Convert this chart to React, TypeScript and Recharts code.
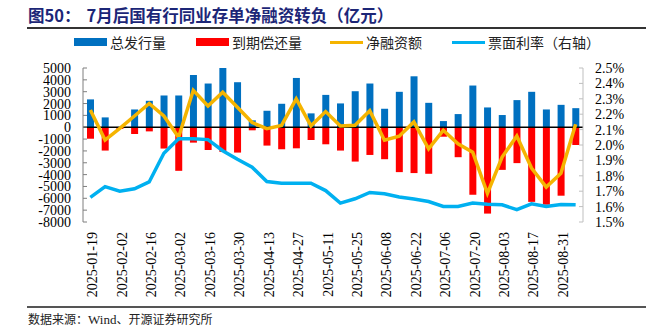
import React from 'react';
import { ComposedChart, Bar, Line, XAxis, YAxis, ReferenceLine } from 'recharts';

const weeks = [
  '2025-01-19', '2025-01-26', '2025-02-02', '2025-02-09', '2025-02-16', '2025-02-23',
  '2025-03-02', '2025-03-09', '2025-03-16', '2025-03-23', '2025-03-30', '2025-04-06',
  '2025-04-13', '2025-04-20', '2025-04-27', '2025-05-04', '2025-05-11', '2025-05-18',
  '2025-05-25', '2025-06-01', '2025-06-08', '2025-06-15', '2025-06-22', '2025-06-29',
  '2025-07-06', '2025-07-13', '2025-07-20', '2025-07-27', '2025-08-03', '2025-08-10',
  '2025-08-17', '2025-08-24', '2025-08-31', '2025-09-07',
];

// 总发行量（亿元）
const issuance = [
  2350, 830, 30, 1500, 2230, 2680, 2680, 4410, 3690, 5000, 3800, 580,
  1390, 1980, 4160, 1170, 2730, 2010, 3040, 3690, 1560, 2990, 4300, 2060,
  520, 1110, 3520, 1670, 1030, 2290, 2990, 1500, 1890, 1610,
];

// 到期偿还量（亿元）
const maturity = [
  -970, -1970, -150, -570, -350, -1800, -3680, -1300, -1920, -2080, -2140, -260,
  -1550, -1860, -1780, -1080, -1440, -1970, -2900, -2340, -2700, -3790, -3870, -3930,
  -800, -2530, -5700, -7290, -3600, -3030, -6300, -6540, -5780, -1500,
];

// 净融资额（亿元）
const netFinancing = [
  1450, -1080, -100, 950, 2000, 950, -850, 3120, 1800, 2960, 1680, 400,
  -120, 150, 2400, 120, 1320, 100, 170, 1400, -1100, -760, 450, -1820,
  -260, -1400, -2100, -5580, -2520, -740, -3450, -5050, -3880, 250,
];

// 票面利率（%，右轴）
const couponRate = [
  1.66, 1.73, 1.70, 1.716, 1.76, 1.946, 2.04, 2.04, 2.035, 1.963, 1.907, 1.856,
  1.763, 1.752, 1.752, 1.752, 1.704, 1.623, 1.651, 1.692, 1.683, 1.662, 1.649, 1.633,
  1.601, 1.601, 1.623, 1.616, 1.612, 1.58, 1.618, 1.601, 1.614, 1.612,
];

const leftTicks = [5000, 4000, 3000, 2000, 1000, 0, -1000, -2000, -3000, -4000, -5000, -6000, -7000, -8000];
const rightTicks = [1.5, 1.6, 1.7, 1.8, 1.9, 2.0, 2.1, 2.2, 2.3, 2.4, 2.5];

const chartData = weeks.map((w, i) => ({
  week: w,
  issuance: issuance[i],
  maturity: maturity[i],
  net: netFinancing[i],
  rate: couponRate[i],
}));

const BLUE = '#0070C0';
const RED = '#FF0000';
const GOLD = '#F5B400';
const CYAN = '#00B0F0';
const serif = '"Liberation Serif", "Times New Roman", serif';
const cjk = '"Noto Sans CJK SC", sans-serif';

const DateTick = (props: any) => {
  const { x, y, payload } = props;
  return (
    <g transform={`translate(${x + 2},${y})`}>
      <text transform="rotate(-90)" textAnchor="end" dy="0.35em" fontSize={14} fontFamily={serif} fill="#000">
        {payload.value}
      </text>
    </g>
  );
};

const legendItems = [
  { label: '总发行量', color: BLUE, kind: 'bar', left: 74 },
  { label: '到期偿还量', color: RED, kind: 'bar', left: 196 },
  { label: '净融资额', color: GOLD, kind: 'line', left: 330 },
  { label: '票面利率（右轴）', color: CYAN, kind: 'line', left: 452 },
];

const App: React.FC = () => {
  return (
    <div style={{ position: 'absolute', left: 0, top: 0, width: 646, height: 330, background: '#fff', overflow: 'hidden' }}>
      <div style={{ position: 'absolute', left: 28, top: 3, fontFamily: cjk, fontWeight: 700, fontSize: 16.5, color: '#1c2677', whiteSpace: 'nowrap' }}>
        图50：<span style={{ marginLeft: 6 }}>7</span>月后国有行同业存单净融资转负（亿元）
      </div>
      <div style={{ position: 'absolute', left: 27, right: 0, top: 27, height: 1.5, background: '#333' }} />
      {legendItems.map(item => (
        <div key={item.label} style={{ position: 'absolute', left: item.left, top: 33, height: 18, display: 'flex', alignItems: 'center', whiteSpace: 'nowrap' }}>
          <span style={{
            display: 'inline-block',
            width: 33,
            height: item.kind === 'bar' ? 8 : 3,
            background: item.color,
            marginRight: 3,
          }} />
          <span style={{ fontFamily: cjk, fontSize: 14, color: '#222', lineHeight: '18px' }}>{item.label}</span>
        </div>
      ))}

      <div style={{ position: 'absolute', left: 0, top: 0 }}>
        <ComposedChart
          width={646}
          height={330}
          data={chartData}
          stackOffset="sign"
          margin={{ top: 68, right: 0, bottom: 0, left: 0 }}
        >
          <XAxis
            dataKey="week"
            xAxisId="x"
            height={108}
            interval={1}
            axisLine={false}
            tickLine={false}
            tickSize={0}
            tickMargin={10}
            tick={DateTick}
          />
          <YAxis
            yAxisId="left"
            orientation="left"
            width={83}
            domain={[-8000, 5000]}
            ticks={leftTicks}
            interval={0}
            axisLine={{ stroke: '#7f7f7f' }}
            tickLine={{ stroke: '#7f7f7f' }}
            tickSize={-4}
            tickMargin={16}
            tick={{ fontSize: 14, fontFamily: serif, fill: '#000' }}
          />
          <YAxis
            yAxisId="right"
            orientation="right"
            width={63}
            domain={[1.5, 2.5]}
            ticks={rightTicks}
            interval={0}
            axisLine={{ stroke: '#bfbfbf' }}
            tickLine={{ stroke: '#bfbfbf' }}
            tickSize={-4}
            tickMargin={16}
            tickFormatter={(v: number) => `${v.toFixed(1)}%`}
            tick={{ fontSize: 14, fontFamily: serif, fill: '#000', textAnchor: 'start' }}
          />
          <Bar xAxisId="x" yAxisId="left" dataKey="issuance" stackId="s" fill={BLUE} barSize={7} isAnimationActive={false} />
          <Bar xAxisId="x" yAxisId="left" dataKey="maturity" stackId="s" fill={RED} barSize={7} isAnimationActive={false} />
          <ReferenceLine xAxisId="x" yAxisId="left" y={0} stroke="#000" strokeWidth={1.5} />
          <Line xAxisId="x" yAxisId="left" type="linear" dataKey="net" stroke={GOLD} strokeWidth={3.5} dot={false} isAnimationActive={false} />
          <Line xAxisId="x" yAxisId="right" type="linear" dataKey="rate" stroke={CYAN} strokeWidth={3.5} dot={false} isAnimationActive={false} />
        </ComposedChart>
      </div>

      <div style={{ position: 'absolute', left: 27, right: 0, top: 306, height: 1.5, background: '#555' }} />
      <div style={{ position: 'absolute', left: 28, top: 310, fontFamily: cjk, fontSize: 12, color: '#222', whiteSpace: 'nowrap' }}>
        数据来源：<span style={{ fontFamily: serif, fontSize: 13 }}>Wind</span>、开源证券研究所
      </div>
    </div>
  );
};

export default App;
